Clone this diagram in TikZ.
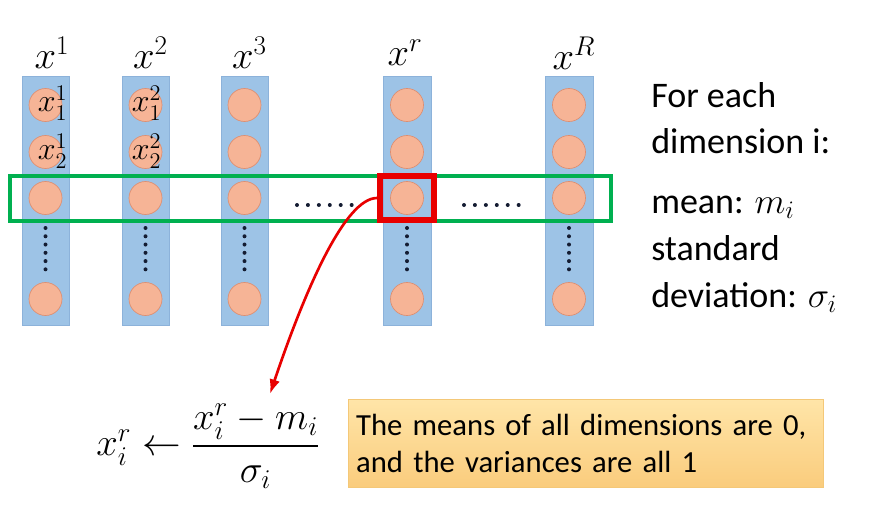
\RequirePackage{fix-cm}
\documentclass[tikz,border=0pt]{standalone}
\usepackage{amsmath}
\usepackage{fontspec}
\setmainfont{Carlito}
\usetikzlibrary{arrows.meta}
\definecolor{barblue}{RGB}{157,195,230}
\definecolor{barline}{RGB}{140,178,218}
\definecolor{ballfill}{RGB}{246,180,150}
\definecolor{ballline}{RGB}{222,142,112}
\definecolor{bandgreen}{RGB}{0,176,80}
\definecolor{selred}{RGB}{232,0,0}
\definecolor{dotcol}{RGB}{20,28,50}
\definecolor{notetop}{RGB}{255,229,168}
\definecolor{notebottom}{RGB}{250,204,125}
\definecolor{noteline}{RGB}{244,200,120}

\begin{document}
\begin{tikzpicture}[x=0.75pt,y=0.75pt,yscale=-1,xscale=1,
  bar/.style={fill=barblue,draw=barline,line width=0.5pt},
  ball/.style={circle,fill=ballfill,draw=ballline,line width=0.5pt,minimum size=24.75pt,inner sep=0pt},
  vdots/.style={dotcol,line width=3pt,line cap=round,dash pattern=on 0pt off 6.2pt},
  hdots/.style={dotcol,line width=3pt,line cap=round,dash pattern=on 0pt off 8.2pt},
  mathlab/.style={font=\fontsize{29}{33}\selectfont,inner sep=0pt},
  balllab/.style={font=\fontsize{24}{28}\selectfont,inner sep=0pt},
  sidetext/.style={font=\fontsize{27}{35}\selectfont,align=left,anchor=west,inner sep=0pt}
]
\path (0,0) rectangle (876,508);

%Columns
\draw [bar] (22,76) rectangle (69,325);
\draw [bar] (122,76) rectangle (169,325);
\draw [bar] (221,76) rectangle (268,325);
\draw [bar] (383,76) rectangle (431,325);
\draw [bar] (545,76) rectangle (593,325);

% Column 1
\node [ball] (c1a) at (45.5,105) {};
\node [ball] (c1b) at (45.5,152) {};
\node [ball] (c1c) at (45.5,198) {};
\node [ball] (c1d) at (45.5,299) {};
% Column 2
\node [ball] (c2a) at (145.5,105) {};
\node [ball] (c2b) at (145.5,152) {};
\node [ball] (c2c) at (145.5,198) {};
\node [ball] (c2d) at (145.5,299) {};
% Column 3
\node [ball] (c3a) at (244.5,105) {};
\node [ball] (c3b) at (244.5,152) {};
\node [ball] (c3c) at (244.5,198) {};
\node [ball] (c3d) at (244.5,299) {};
% Column r
\node [ball] (cra) at (407,105) {};
\node [ball] (crb) at (407,152) {};
\node [ball] (crc) at (407,198) {};
\node [ball] (crd) at (407,299) {};
% Column R
\node [ball] (cRa) at (569,105) {};
\node [ball] (cRb) at (569,152) {};
\node [ball] (cRc) at (569,198) {};
\node [ball] (cRd) at (569,299) {};

%Dotted Lines
\draw [vdots] (45.5,228) -- (45.5,270);
\draw [vdots] (145.5,228) -- (145.5,270);
\draw [vdots] (244.5,228) -- (244.5,270);
\draw [vdots] (407,228) -- (407,270);
\draw [vdots] (569,228) -- (569,270);
\draw [hdots] (297,205) -- (352,205);
\draw [hdots] (464,205) -- (519,205);

%Selected dimension
\draw [bandgreen,line width=3.5pt] (10,176) rectangle (611,221);
\node [draw=selred,line width=4.5pt,minimum width=40.5pt,minimum height=33pt] (sel) at (407,198) {};

% Text Node
\node [mathlab] (h1) at (52,53) {$x^1$};
\node [mathlab] (h2) at (150.5,53) {$x^2$};
\node [mathlab] (h3) at (249.5,53) {$x^3$};
\node [mathlab] (hr) at (405,53) {$x^r$};
\node [mathlab] (hR) at (574,53) {$x^R$};
% Text Node
\node [balllab] (l1a) at (52.5,103) {$x_1^1$};
\node [balllab] (l1b) at (52.5,151) {$x_2^1$};
\node [balllab] (l2a) at (146.5,103) {$x_1^2$};
\node [balllab] (l2b) at (146.5,151) {$x_2^2$};

% Text Node
\node [sidetext] (each) at (651,118) {For each\\dimension i:};
\node [sidetext] (mean) at (651,207) {mean: $m_i$};
\node [sidetext] (std) at (651,274) {standard\\deviation: $\sigma_i$};

% Formula
\node [mathlab] (norm) at (208,446) {$x_i^r \leftarrow \dfrac{x_i^r - m_i}{\sigma_i}$};
\coordinate (tip) at (270,394);
\draw [selred,line width=2pt,-{Latex[length=11pt,width=8pt]}] (sel.west) .. controls (345,198) and (305,290) .. (tip);

% Note
\node [top color=notetop,bottom color=notebottom,draw=noteline,line width=0.5pt,text width=344pt,inner xsep=6pt,minimum height=66pt,align=left,font=\fontsize{23}{27.75}\selectfont] (note) at (585.5,443) {The means of all dimensions are 0,\\and the variances are all 1};

\end{tikzpicture}
\end{document}
